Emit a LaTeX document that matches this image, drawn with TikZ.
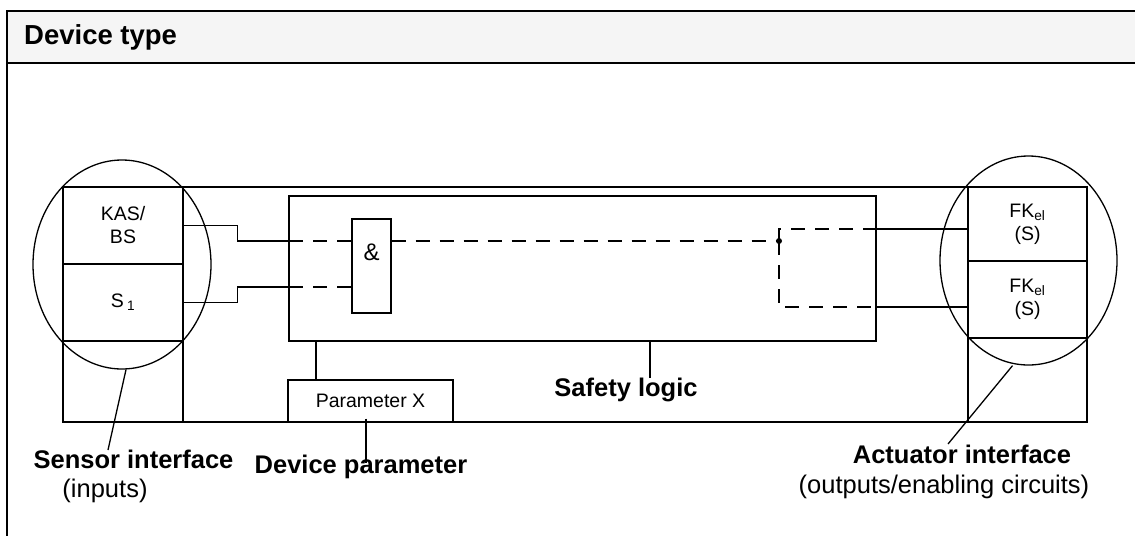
\documentclass[tikz,border=0pt]{standalone}
\usepackage{fontspec}
\setmainfont{Liberation Sans}
\usetikzlibrary{shapes.geometric,positioning}

\begin{document}
\begin{tikzpicture}[x=1pt, y=-1pt,
    box/.style={draw, line width=1.3pt, inner sep=0pt},
    ring/.style={ellipse, draw, line width=1.3pt, inner sep=0pt},
    wire/.style={line width=1.3pt},
    flow/.style={line width=1.3pt, dash pattern=on 14pt off 10pt},
    lead/.style={line width=1.3pt},
    small/.style={font=\fontsize{19.5}{23}\selectfont, align=center},
    tag/.style={font=\fontsize{25.5}{29}\selectfont\bfseries, anchor=base},
    note/.style={font=\fontsize{25.5}{29}\selectfont, anchor=base}]
  \useasboundingbox (0,0) rectangle (1135,536);

  % Header
  \fill[black!4] (7,11) rectangle (1135,63);
  \draw[line width=2pt] (1135,11) -- (7,11) -- (7,536);
  \draw[line width=2pt] (7,63) -- (1135,63);
  \node (title) [anchor=base west, inner sep=0pt, font=\fontsize{27.5}{31}\selectfont\bfseries] at (24,44) {Device type};

  % Device frame with the two interface columns
  \node (frame) [box, minimum width=1024pt, minimum height=235pt] at (575,304.5) {};
  \node (lcol) [box, minimum width=120pt, minimum height=235pt] at (123,304.5) {};
  \node (kas)  [box, small, minimum width=120pt, minimum height=77pt] at (123,225.5) {KAS/\\BS};
  \node (s1)   [box, small, minimum width=120pt, minimum height=77pt] at (123,302.5) {S\,\textsubscript{1}};
  \node (rcol) [box, minimum width=119pt, minimum height=235pt] at (1027.5,304.5) {};
  \node (fk1)  [box, small, minimum width=119pt, minimum height=74pt] at (1027.5,224) {FK\textsubscript{el}\\(S)};
  \node (fk2)  [box, small, minimum width=119pt, minimum height=77pt] at (1027.5,299.5) {FK\textsubscript{el}\\(S)};

  % Interface groups
  \node (sens) [ring, minimum width=178pt, minimum height=209pt] at (122,264.5) {};
  \node (act)  [ring, minimum width=177pt, minimum height=209pt] at (1028.5,260.5) {};

  % Safety logic
  \node (logic) [box, minimum width=587pt, minimum height=145pt] at (582.5,268.5) {};
  \node (gate)  [box, minimum width=39pt, minimum height=94pt] at (371.5,266) {};
  \node (amp)   [font=\fontsize{24}{28}\selectfont] at ([yshift=-34pt]gate.north) {\&};
  \node (param) [box, small, minimum width=165pt, minimum height=42pt] at (370.5,401) {Parameter X};

  % Signal path
  \coordinate (in1) at (289,241);
  \coordinate (in2) at (289,287);
  \coordinate (split) at (779,241);
  \coordinate (out1) at (876,229);
  \coordinate (out2) at (876,307);
  \draw[wire] (kas.east) -- ++(54,0) |- (in1);
  \draw[flow] (in1) -- (gate.west |- in1);
  \draw[wire] (s1.east) -- ++(54,0) |- (in2);
  \draw[flow] (in2) -- (gate.west |- in2);
  \draw[flow] (gate.east |- in1) -- (split);
  \fill (split) circle (3pt);
  \draw[flow] (split) |- (out1);
  \draw[flow] (split) |- (out2);
  \draw[wire] (out1) -- (fk1.west |- out1);
  \draw[wire] (out2) -- (fk2.west |- out2);
  \draw[wire] ([xshift=-54.5pt]param.north) -- ([xshift=-54.5pt]param.north |- logic.south);

  % Labels
  \node (sensl) [tag]  at (133.5,468) {Sensor interface};
  \node (sensn) [note] at (105,497) {(inputs)};
  \node (devl)  [tag]  at (361,473) {Device parameter};
  \node (logl)  [tag]  at (626,396) {Safety logic};
  \node (actl)  [tag]  at (962,463) {Actuator interface};
  \node (actn)  [note] at (944,493) {(outputs/enabling circuits)};

  % Leader lines
  \coordinate (senstip) at (108,450);
  \coordinate (acttip) at (948,444);
  \draw[lead] ([xshift=4pt]sens.south) -- (senstip);
  \draw[lead] ([xshift=-16pt]act.south) -- (acttip);
  \draw[lead] ([xshift=-4.5pt,yshift=4pt]param.south) -- ++(0,44);
  \draw[lead] ([xshift=67.5pt]logic.south) -- ++(0,36);
\end{tikzpicture}
\end{document}
